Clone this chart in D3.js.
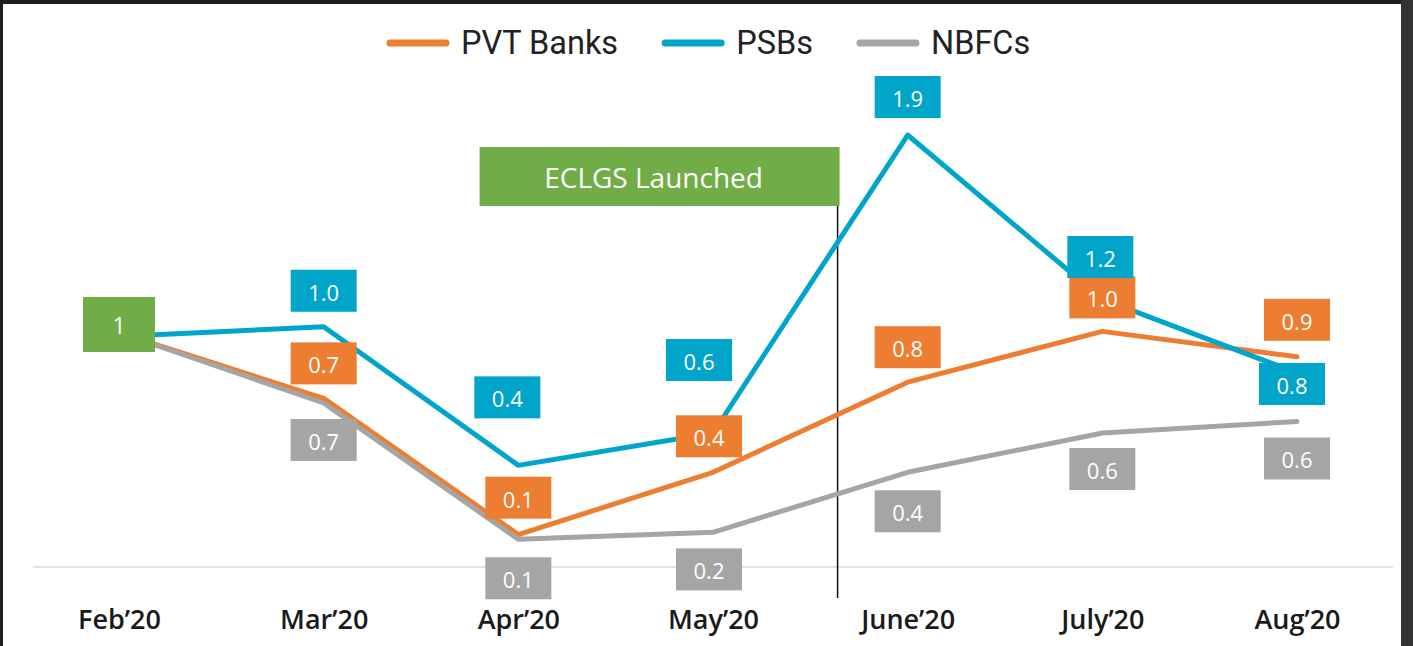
<!DOCTYPE html>
<html>
<head>
<meta charset="utf-8">
<script src="https://cdn.jsdelivr.net/npm/d3@7"></script>
<style>
  html, body { margin: 0; padding: 0; background: #1e1e1e; }
  svg { display: block; }
</style>
</head>
<body>
<div id="chart"></div>
<script>
// data (index, Feb'20 = 1)
const months = ["Feb\u201920", "Mar\u201920", "Apr\u201920", "May\u201920", "June\u201920", "July\u201920", "Aug\u201920"];
const seriesNames = ["PVT Banks", "PSBs", "NBFCs"];
const pvtBanks = [1, 0.73, 0.14, 0.41, 0.80, 1.02, 0.91];
const psbs = [1, 1.04, 0.44, 0.58, 1.87, 1.16, 0.84];
const nbfcs = [1, 0.71, 0.12, 0.15, 0.41, 0.58, 0.63];
// printed labels
const pvtLabels = ["1", "0.7", "0.1", "0.4", "0.8", "1.0", "0.9"];
const psbLabels = ["1", "1.0", "0.4", "0.6", "1.9", "1.2", "0.8"];
const nbfcLabels = ["1", "0.7", "0.1", "0.2", "0.4", "0.6", "0.6"];
const eventText = "ECLGS Launched";

const width = 1413, height = 646;
const colors = { "PVT Banks": "#ed7d31", "PSBs": "#00a5c9", "NBFCs": "#a5a5a5" };
const green = "#70ad47";

// label placement (offset from the point, px)
const labelOffsets = {
  "PVT Banks": { dx: [0, 0, 0, -4, 0, 0, 0], dy: [0, -35, -37, -36, -35, -34, -37] },
  "PSBs":      { dx: [0, 0, -11, -14, 0, -2, -5], dy: [0, -36, -68, -73, -38, -42, 11] },
  "NBFCs":     { dx: [0, 0, 0, -4, 0, 0, 0], dy: [0, 37, 39, 37, 39, 36, 37] }
};

const series = [
  { name: "PVT Banks", values: pvtBanks, labels: pvtLabels },
  { name: "NBFCs", values: nbfcs, labels: nbfcLabels },
  { name: "PSBs", values: psbs, labels: psbLabels }
];

const svg = d3.select("#chart").append("svg")
  .attr("width", width)
  .attr("height", height);

// frame
svg.append("rect").attr("x", 0).attr("y", 0).attr("width", width).attr("height", height).attr("fill", "#1e1e1e");
svg.append("rect").attr("x", 1401).attr("y", 0).attr("width", 12).attr("height", height).attr("fill", "#333333");
svg.append("rect").attr("x", 3).attr("y", 4).attr("width", 1398).attr("height", height - 4).attr("fill", "#ffffff");

const xScale = d3.scalePoint()
  .domain(months)
  .range([129, 1297]);

const yScale = d3.scaleLinear()
  .domain([0, 2])
  .range([567, 105]);

// baseline
svg.append("line")
  .attr("x1", 33).attr("x2", 1393)
  .attr("y1", yScale(0)).attr("y2", yScale(0))
  .attr("stroke", "#d9d9d9")
  .attr("stroke-width", 1.5);

// x axis
const xAxis = svg.append("g")
  .attr("transform", "translate(0," + yScale(0) + ")")
  .call(d3.axisBottom(xScale).tickSize(0).tickPadding(0));
xAxis.select(".domain").remove();
xAxis.selectAll("text")
  .attr("y", 62)
  .attr("dy", 0)
  .attr("dx", (d, i) => i === 0 ? -10 : 0)
  .style("font-family", "'Open Sans', sans-serif")
  .style("font-size", "27px")
  .style("font-weight", 600)
  .style("fill", "#1a1a1a");

// event marker between May and June
const step = xScale.step();
const eventX = xScale(months[3]) + 0.64 * step;
svg.append("line")
  .attr("x1", eventX).attr("x2", eventX)
  .attr("y1", 200).attr("y2", 598)
  .attr("stroke", "#111")
  .attr("stroke-width", 1.5);

svg.append("rect")
  .attr("x", eventX - 358).attr("y", 147)
  .attr("width", 360).attr("height", 59)
  .attr("fill", green);
svg.append("text")
  .attr("x", eventX - 184).attr("y", 177)
  .attr("text-anchor", "middle")
  .attr("dominant-baseline", "central")
  .style("font-family", "'Open Sans', sans-serif")
  .style("font-size", "28px")
  .style("fill", "#fff")
  .text(eventText);

// lines
const line = d3.line()
  .x((d, i) => xScale(months[i]))
  .y(d => yScale(d));

svg.selectAll("path.series")
  .data(series)
  .enter()
  .append("path")
    .attr("class", "series")
    .attr("d", d => line(d.values))
    .attr("fill", "none")
    .attr("stroke", d => colors[d.name])
    .attr("stroke-width", 5)
    .attr("stroke-linejoin", "round")
    .attr("stroke-linecap", "round");

// data labels
const boxW = 66, boxH = 42;
series.forEach(s => {
  const pts = s.values.map((v, i) => ({ i: i, v: v, label: s.labels[i] })).filter(p => p.i > 0);
  const g = svg.selectAll("g.lab-" + s.name.replace(/\s/g, ""))
    .data(pts)
    .enter()
    .append("g")
      .attr("transform", p => "translate(" +
        (xScale(months[p.i]) + labelOffsets[s.name].dx[p.i]) + "," +
        (yScale(p.v) + labelOffsets[s.name].dy[p.i]) + ")");
  g.append("rect")
    .attr("x", -boxW / 2).attr("y", -boxH / 2)
    .attr("width", boxW).attr("height", boxH)
    .attr("fill", colors[s.name]);
  g.append("text")
    .attr("text-anchor", "middle")
    .attr("dominant-baseline", "central")
    .attr("y", 1)
    .style("font-family", "'Open Sans', sans-serif")
    .style("font-size", "22px")
    .style("fill", "#fff")
    .text(p => p.label);
});

// starting value box
const start = svg.append("g")
  .attr("transform", "translate(" + (xScale(months[0]) - 10) + "," + (yScale(psbs[0]) - 11) + ")");
start.append("rect")
  .attr("x", -36).attr("y", -28)
  .attr("width", 72).attr("height", 55)
  .attr("fill", green);
start.append("text")
  .attr("text-anchor", "middle")
  .attr("dominant-baseline", "central")
  .style("font-family", "'Open Sans', sans-serif")
  .style("font-size", "23px")
  .style("fill", "#fff")
  .text(psbLabels[0]);

// legend
const legend = svg.append("g").attr("transform", "translate(387,43)");
let lx = 0;
seriesNames.forEach(name => {
  legend.append("line")
    .attr("x1", lx + 3).attr("x2", lx + 59)
    .attr("y1", 0).attr("y2", 0)
    .attr("stroke", colors[name])
    .attr("stroke-width", 7)
    .attr("stroke-linecap", "round");
  const t = legend.append("text")
    .attr("x", lx + 74)
    .attr("dominant-baseline", "central")
    .style("font-family", "Roboto, sans-serif")
    .style("font-size", "32.5px")
    .style("fill", "#222")
    .text(name);
  lx += 74 + t.node().getComputedTextLength() + 44;
});
</script>
</body>
</html>
